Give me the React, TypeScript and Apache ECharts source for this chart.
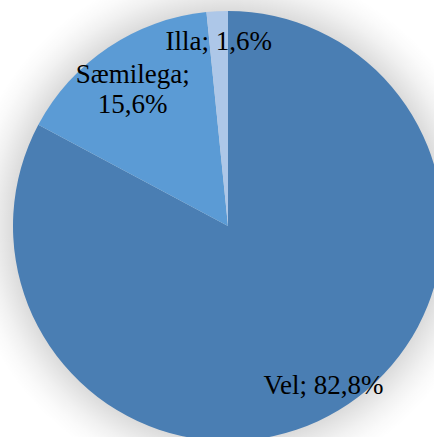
import React, { useEffect, useRef } from "react";
import * as echarts from "echarts";

const categories = ["Vel", "Sæmilega", "Illa"];
const values = [82.8, 15.6, 1.6];
const colors = ["#4a7eb3", "#5b9bd5", "#adc7e8"];

const fmt = (v: number) => v.toFixed(1).replace(".", ",") + "%";

export default function App() {
  const ref = useRef<HTMLDivElement>(null);
  useEffect(() => {
    if (!ref.current) return;
    const chart = echarts.init(ref.current, null, { renderer: "svg" });
    const center = [228, 226];
    const R = 215;
    const S = 48;
    const T = R + S;
    const data = categories.map((name, i) => ({
      name,
      value: values[i],
      itemStyle: { color: colors[i] },
    }));
    chart.setOption({
      animation: false,
      backgroundColor: "#ffffff",
      series: [
        {
          type: "pie",
          silent: true,
          center,
          radius: T,
          startAngle: 90,
          label: { show: false },
          labelLine: { show: false },
          emphasis: { disabled: true },
          itemStyle: {
            color: {
              type: "radial",
              x: 0.5,
              y: 0.5,
              r: 0.5,
              colorStops: [
                { offset: 0, color: "rgba(0,0,0,0.14)" },
                { offset: R / T, color: "rgba(0,0,0,0.14)" },
                { offset: (R + 10) / T, color: "rgba(0,0,0,0.10)" },
                { offset: (R + 22) / T, color: "rgba(0,0,0,0.055)" },
                { offset: (R + 35) / T, color: "rgba(0,0,0,0.02)" },
                { offset: 1, color: "rgba(0,0,0,0)" },
              ],
            },
          },
          data: [{ name: "bg", value: 1 }],
        },
        {
          type: "pie",
          center,
          radius: R,
          startAngle: 90,
          clockwise: true,
          label: { show: false },
          labelLine: { show: false },
          itemStyle: { borderWidth: 0 },
          emphasis: { disabled: true },
          data,
        },
        {
          type: "pie",
          silent: true,
          center,
          radius: [150, R],
          startAngle: 90,
          clockwise: true,
          itemStyle: { color: "transparent", borderWidth: 0 },
          emphasis: { disabled: true },
          labelLine: { show: false },
          label: {
            show: true,
            position: "inside",
            color: "#000",
            fontFamily: "Liberation Serif",
            fontSize: 27,
            lineHeight: 30,
            formatter: (p: any) =>
              p.name + ";" + (p.dataIndex === 1 ? "\n" : " ") + fmt(p.value),
          },
          labelLayout: (p: any) =>
            p.dataIndex === 1 ? { dx: 8, dy: 17 } : {},
          data: categories.map((name, i) => ({ name, value: values[i] })),
        },
      ],
    });
    return () => chart.dispose();
  }, []);
  return (
    <div
      ref={ref}
      style={{ position: "fixed", left: 0, top: 0, width: 434, height: 437 }}
    />
  );
}
